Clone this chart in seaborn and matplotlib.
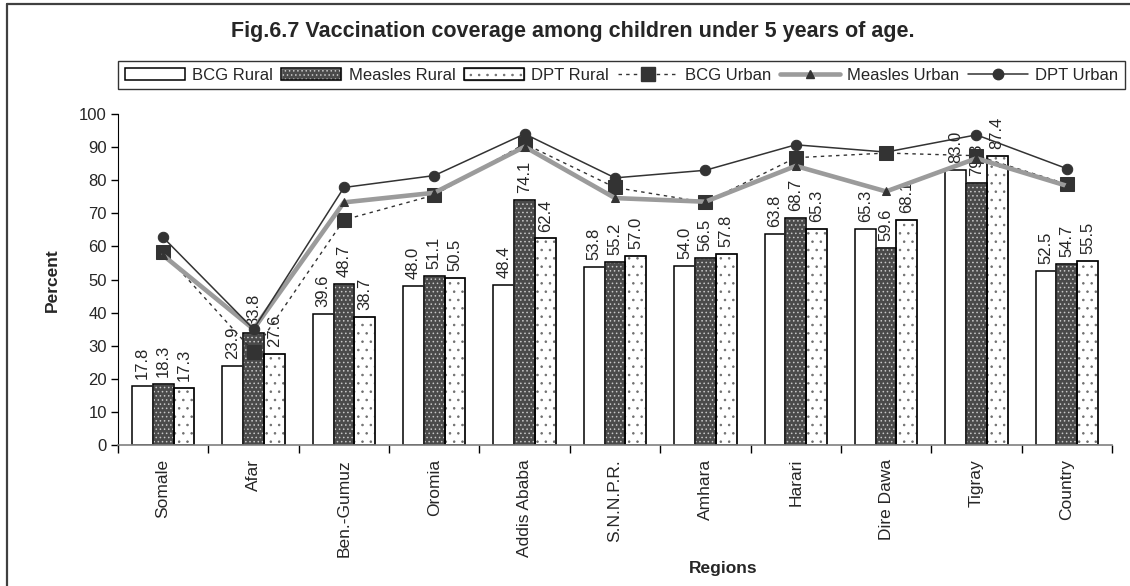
import numpy as np
import pandas as pd
import matplotlib
matplotlib.use("Agg")
import matplotlib.pyplot as plt
import seaborn as sns
from matplotlib.patches import Patch, Rectangle
from matplotlib.lines import Line2D

regions = ["Somale", "Afar", "Ben.-Gumuz", "Oromia", "Addis Ababa", "S.N.N.P.R.",
           "Amhara", "Harari", "Dire Dawa", "Tigray", "Country"]

bcg_rural = [17.8, 23.9, 39.6, 48.0, 48.4, 53.8, 54.0, 63.8, 65.3, 83.0, 52.5]
measles_rural = [18.3, 33.8, 48.7, 51.1, 74.1, 55.2, 56.5, 68.7, 59.6, 79.3, 54.7]
dpt_rural = [17.3, 27.6, 38.7, 50.5, 62.4, 57.0, 57.8, 65.3, 68.1, 87.4, 55.5]

bcg_urban = [58.3, 28.2, 68.0, 75.5, 91.0, 77.8, 73.3, 86.8, 88.2, 87.4, 78.8]
measles_urban = [57.3, 35.0, 73.3, 76.2, 90.1, 74.6, 73.5, 84.3, 76.6, 86.6, 78.3]
dpt_urban = [62.7, 35.0, 77.8, 81.4, 94.0, 80.7, 83.0, 90.7, 88.5, 93.7, 83.5]

rural_names = ["BCG Rural", "Measles Rural", "DPT Rural"]

sns.set_style("ticks")
plt.rcParams["font.family"] = ["Liberation Sans", "DejaVu Sans"]
plt.rcParams["hatch.linewidth"] = 0.6

df = pd.DataFrame({
    "region": regions * 3,
    "value": bcg_rural + measles_rural + dpt_rural,
    "series": [n for n in rural_names for _ in regions],
})

fig = plt.figure(figsize=(11.3, 5.86), dpi=100)
ax = fig.add_axes([118 / 1130, 1 - 445 / 586, (1112 - 118) / 1130, (445 - 114) / 586])

sns.barplot(data=df, x="region", y="value", hue="series", order=regions,
            hue_order=rural_names, palette=["white", "#4a4a4a", "white"],
            saturation=1, width=0.69, edgecolor="black", linewidth=1.1,
            legend=False, ax=ax, zorder=1)

# patterns: hatch takes edge colour, so redraw black outlines on top
styles = [(None, None), ("....", "#c8c8c8"), ("..", "#6e6e6e")]
for cont, (hatch, hcol) in zip(ax.containers, styles):
    if hatch is None:
        continue
    for p in cont.patches:
        p.set_hatch(hatch)
        p.set_edgecolor(hcol)
        ax.add_patch(Rectangle(p.get_xy(), p.get_width(), p.get_height(),
                               fill=False, edgecolor="black", linewidth=1.1, zorder=1.5))

for cont in ax.containers:
    ax.bar_label(cont, fmt="%.1f", rotation=90, padding=5, fontsize=12, zorder=3)

xpos = np.arange(len(regions))
sns.lineplot(x=xpos, y=bcg_urban, ax=ax, color="#333333", linewidth=1.0,
             linestyle=(0, (2.5, 3)), marker="s", markersize=10,
             markeredgecolor="#333333", zorder=5)
sns.lineplot(x=xpos, y=measles_urban, ax=ax, color="#9b9b9b", linewidth=3.3,
             marker="^", markersize=6, markerfacecolor="#333333",
             markeredgecolor="#333333", zorder=5)
sns.lineplot(x=xpos, y=dpt_urban, ax=ax, color="#333333", linewidth=1.1,
             marker="o", markersize=7.5, markeredgecolor="#333333", zorder=5)

ax.set_xlim(-0.5, len(regions) - 0.5)
ax.set_ylim(0, 100)
ax.set_yticks(np.arange(0, 101, 10))
ax.tick_params(axis="y", labelsize=12, length=5, width=1, color="black", pad=3)

ax.set_xticks(np.arange(-0.5, len(regions), 1))
ax.set_xticklabels([])
ax.set_xticks(xpos, minor=True)
ax.set_xticklabels(regions, minor=True, rotation=90, fontsize=12.5)
ax.tick_params(axis="x", which="major", length=6, width=1, color="black")
ax.tick_params(axis="x", which="minor", length=0, pad=10)

ax.set_xlabel("")
ax.set_ylabel("")
sns.despine(ax=ax)
ax.spines["left"].set_color("black")
ax.spines["bottom"].set_color("#808080")
ax.spines["bottom"].set_linewidth(1.2)

fig.text(573 / 1130, 1 - 32 / 586, "Fig.6.7 Vaccination coverage among children under 5 years of age.",
         ha="center", va="center", fontsize=15.5, fontweight="bold")
fig.text(52 / 1130, 1 - 280 / 586, "Percent", rotation=90, ha="center", va="center",
         fontsize=12.5, fontweight="bold")
fig.text(723 / 1130, 1 - 568 / 586, "Regions", ha="center", va="center",
         fontsize=12.5, fontweight="bold")

handles = [
    Patch(facecolor="white", edgecolor="black", linewidth=1.1),
    (Patch(facecolor="#4a4a4a", edgecolor="#c8c8c8", hatch="...."),
     Patch(fill=False, edgecolor="black", linewidth=1.1)),
    (Patch(facecolor="white", edgecolor="#6e6e6e", hatch=".."),
     Patch(fill=False, edgecolor="black", linewidth=1.1)),
    Line2D([], [], color="#333333", linewidth=1.0, linestyle=(0, (2.5, 3)),
           marker="s", markersize=10),
    Line2D([], [], color="#9b9b9b", linewidth=3.3, marker="^", markersize=6,
           markerfacecolor="#333333", markeredgecolor="#333333"),
    Line2D([], [], color="#333333", linewidth=1.1, marker="o", markersize=7.5),
]
labels = rural_names + ["BCG Urban", "Measles Urban", "DPT Urban"]
leg = fig.legend(handles, labels, loc="upper left", bbox_to_anchor=(118 / 1130, 1 - 61 / 586),
                 ncol=6, fontsize=12, frameon=True, fancybox=False, handlelength=3.6,
                 handletextpad=0.45, columnspacing=0.5, borderpad=0.4, borderaxespad=0)
leg.get_frame().set_edgecolor("black")
leg.get_frame().set_linewidth(1.0)

fig.add_artist(Line2D([6.5 / 1130, 6.5 / 1130], [0, 1 - 3.5 / 586], transform=fig.transFigure,
                      color="#404040", linewidth=1.6))
fig.add_artist(Line2D([6.5 / 1130, 1], [1 - 3.5 / 586, 1 - 3.5 / 586], transform=fig.transFigure,
                      color="#404040", linewidth=1.6))

fig.savefig("out.png", dpi=100)
